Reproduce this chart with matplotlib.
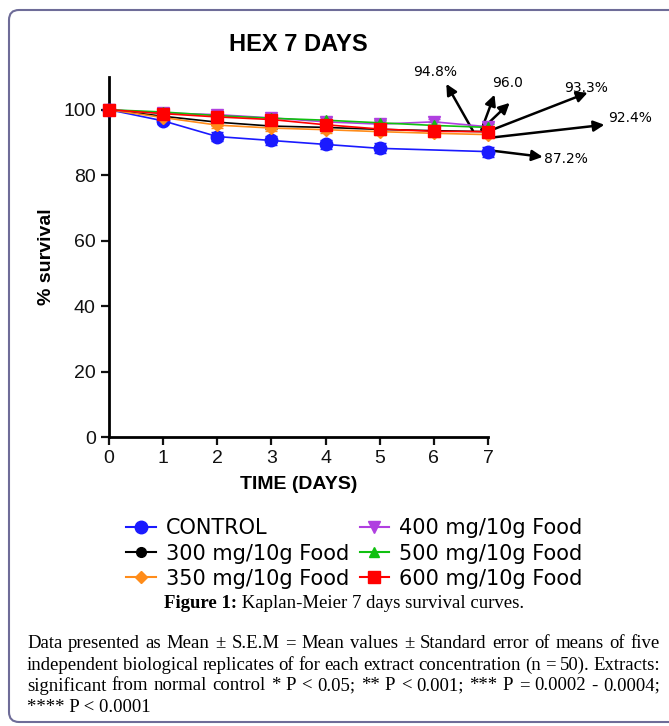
import matplotlib
matplotlib.use('Agg')
import matplotlib.pyplot as plt
from matplotlib.patches import FancyBboxPatch
from matplotlib.lines import Line2D

plt.rcParams['font.family'] = ['Liberation Sans', 'DejaVu Sans']

# survival data
days = [0, 1, 2, 3, 4, 5, 6, 7]
control_days = [0, 1, 2, 3, 4, 5, 7]
control = [100, 96.6, 91.8, 90.6, 89.4, 88.2, 87.2]
control_sem = [0, 1.0, 1.3, 1.3, 1.4, 1.5, 1.5]
food300 = [100, 98.0, 96.2, 95.0, 94.6, 94.0, 93.6, 93.3]
food350 = [100, 97.6, 95.3, 94.4, 93.9, 93.3, 92.8, 92.4]
food400 = [100, 99.0, 98.5, 97.5, 96.3, 95.6, 96.3, 94.8]
food500 = [100, 99.3, 98.2, 97.4, 96.8, 96.0, 95.2, 94.6]
food600 = [100, 98.8, 97.8, 97.0, 95.4, 94.1, 93.4, 93.3]
dose_sem = [0, 0.8, 0.9, 0.9, 1.0, 1.0, 1.0, 1.0]

labels = ['CONTROL', '300 mg/10g Food', '350 mg/10g Food',
          '400 mg/10g Food', '500 mg/10g Food', '600 mg/10g Food']

# annotation labels: (text, text pos, [(arrow tail, arrow head), ...])
notes = [
    ('94.8%', (5.61, 111.6), [((6.72, 93.6), (6.23, 107.9))]),
    ('96.0', (7.08, 108.3), [((6.88, 93.9), (7.12, 104.6)), ((6.88, 93.9), (7.40, 102.1))]),
    ('93.3%', (8.41, 106.7), [((6.99, 93.3), (8.84, 105.2))]),
    ('92.4%', (9.21, 97.5), [((7.07, 91.5), (9.15, 95.4))]),
    ('87.2%', (8.04, 85.0), [((7.07, 87.5), (8.01, 85.6))]),
]

W, H = 669, 726
fig = plt.figure(figsize=(W / 100, H / 100), dpi=100)

# background axes in pixel coordinates for frame and captions
bg = fig.add_axes([0, 0, 1, 1], zorder=-1)
bg.set_xlim(0, W)
bg.set_ylim(H, 0)
bg.axis('off')
bg.add_patch(FancyBboxPatch((9, 10), 700, 712, boxstyle='round,pad=0,rounding_size=10',
                            fc='white', ec='#6e6c98', lw=1.5))

ax = fig.add_axes([109 / W, 1 - 437 / H, (488 - 109) / W, (437 - 77) / H])

series = [
    (control, '#1a1aff', 'o', 9),
    (food300, 'black', 'o', 7),
    (food350, '#ff8c1a', 'D', 6),
    (food400, '#b040e0', 'v', 8),
    (food500, '#10c010', '^', 7),
    (food600, '#ff0000', 's', 9),
]

handles = []
for i, (vals, col, mk, ms) in enumerate(series):
    xs = control_days if i == 0 else days
    err = control_sem if i == 0 else dose_sem
    ax.errorbar(xs, vals, yerr=err, color=col, marker=mk, ms=ms, lw=1.2,
                capsize=4, elinewidth=1.5, clip_on=False, zorder=3)
    handles.append(Line2D([], [], color=col, marker=mk, ms=ms, lw=1.5))

for txt, pos, arrows in notes:
    for tail, head in arrows:
        ax.annotate('', xy=head, xytext=tail, annotation_clip=False,
                    arrowprops=dict(arrowstyle='-|>', color='black', lw=1.8,
                                    mutation_scale=16, shrinkA=0, shrinkB=0))
    ax.text(pos[0], pos[1], txt, fontsize=10, va='center', ha='left', clip_on=False,
            family='DejaVu Sans')

ax.set_xlim(0, 7)
ax.set_ylim(0, 110)
ax.set_xticks(range(8))
ax.set_yticks([0, 20, 40, 60, 80, 100])
for s in ['top', 'right']:
    ax.spines[s].set_visible(False)
for s in ['left', 'bottom']:
    ax.spines[s].set_linewidth(2)
ax.tick_params(width=1.6, length=6, labelsize=14, colors='#111111')
ax.set_xlabel('TIME (DAYS)', fontsize=14, fontweight='bold', labelpad=6)
ax.set_ylabel('% survival', fontsize=14, fontweight='bold', labelpad=6)
ax.set_title('HEX 7 DAYS', fontsize=17, fontweight='bold', pad=19)

fig.legend(handles, labels, loc='upper left', bbox_to_anchor=(118 / W, 1 - 510 / H),
           ncol=2, frameon=False, prop={'family': 'DejaVu Sans', 'size': 15},
           handlelength=1.4, handletextpad=0.5, columnspacing=0.5, labelspacing=0.25,
           borderaxespad=0)

fig.canvas.draw()
r = fig.canvas.get_renderer()

# caption
cap_b = bg.text(0, 604, 'Figure 1:', fontsize=13.5, fontweight='bold', va='center',
                family='Liberation Serif')
cap_r = bg.text(0, 604, ' Kaplan-Meier 7 days survival curves.', fontsize=13.5, va='center',
                family='Liberation Serif')
wb = cap_b.get_window_extent(r).width
wr = cap_r.get_window_extent(r).width
x0 = 344 - (wb + wr) / 2
cap_b.set_x(x0)
cap_r.set_x(x0 + wb)

body = [
    'Data presented as Mean ± S.E.M = Mean values ± Standard error of means of five',
    'independent biological replicates of for each extract concentration (n = 50). Extracts:',
    'significant from normal control * P < 0.05; ** P < 0.001; *** P = 0.0002 - 0.0004;',
    '**** P < 0.0001',
]
left, right = 27, 660
for i, line in enumerate(body):
    y = 644 + i * 21
    words = line.split(' ')
    if i == len(body) - 1:
        bg.text(left, y, line, fontsize=13.5, family='Liberation Serif', va='center')
        continue
    objs = [bg.text(0, y, w, fontsize=13.5, family='Liberation Serif', va='center')
            for w in words]
    widths = [o.get_window_extent(r).width for o in objs]
    gap = (right - left - sum(widths)) / (len(words) - 1)
    x = left
    for o, wd in zip(objs, widths):
        o.set_x(x)
        x += wd + gap

fig.savefig('out.png', dpi=100)
